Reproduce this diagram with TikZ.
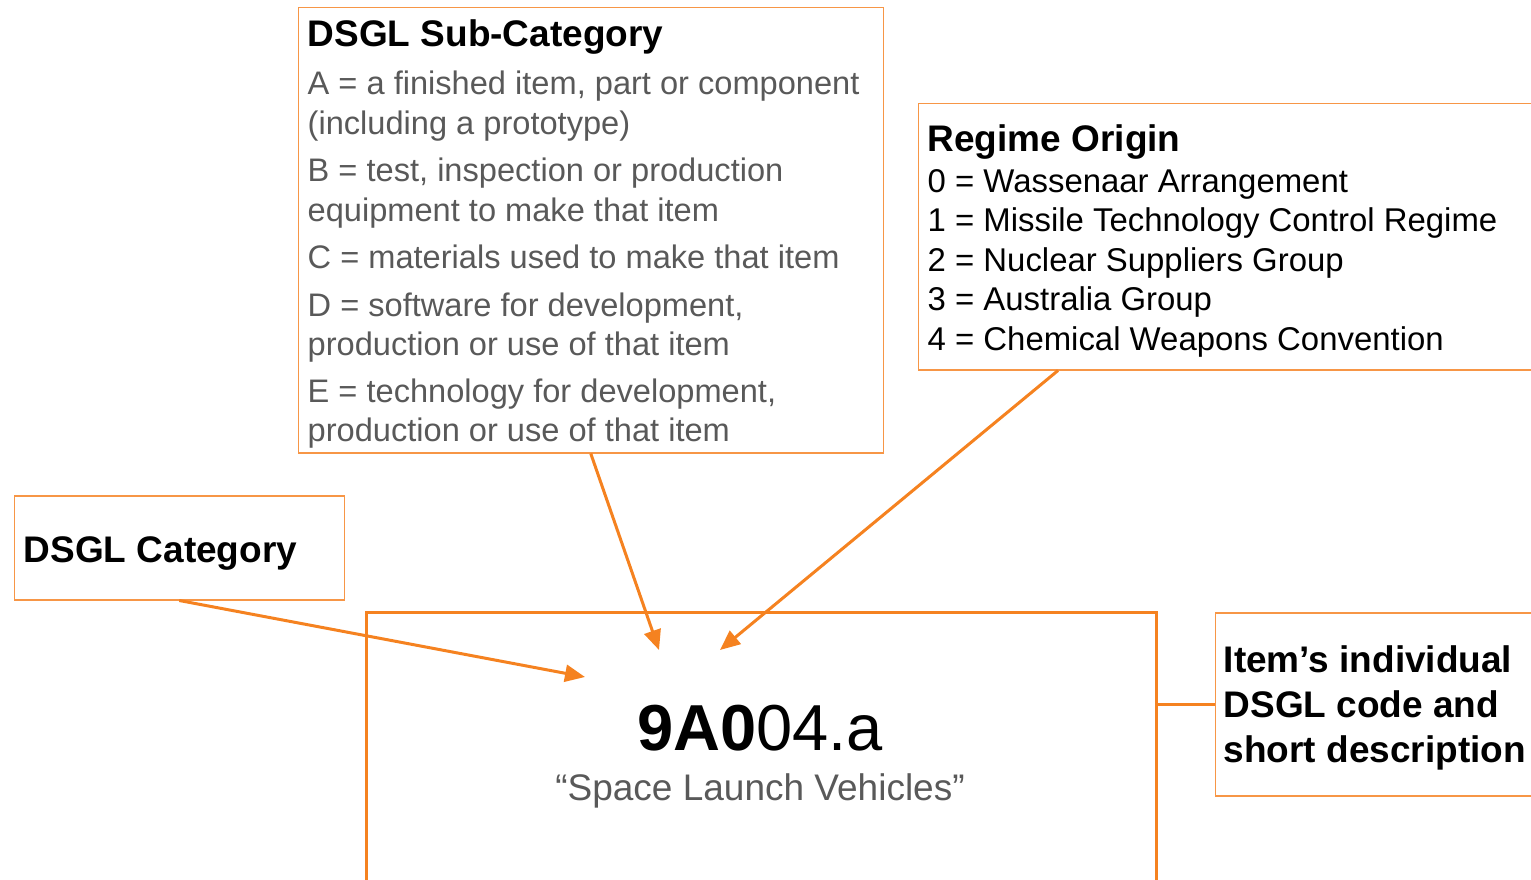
\documentclass[tikz,border=0pt]{standalone}
\usepackage{fontspec}
\setmainfont{Liberation Sans}
\usetikzlibrary{arrows.meta,calc}
\definecolor{thinor}{RGB}{247,150,70}
\definecolor{thickor}{RGB}{245,130,32}
\definecolor{txtgray}{RGB}{89,89,89}
\tikzset{
  thinbox/.style={draw=thinor,line width=1.5pt,inner sep=0,anchor=north west},
  thickbox/.style={draw=thickor,line width=3pt,inner sep=0,anchor=north west},
  conn/.style={draw=thickor,line width=3pt,-{Triangle[length=20pt,width=17pt]}},
  plain/.style={draw=thickor,line width=3pt},
  ttl/.style={anchor=base west,inner sep=0,font=\fontsize{37}{45}\selectfont\bfseries},
  gl/.style={anchor=base west,inner sep=0,text=txtgray,font=\fontsize{32.6}{40}\selectfont},
  bl/.style={anchor=base west,inner sep=0,font=\fontsize{32.9}{40}\selectfont},
}
\begin{document}
\begin{tikzpicture}[x=1pt,y=-1pt]
\useasboundingbox (0,0) rectangle (1531,880);
\clip (0,0) rectangle (1531,880);
% boxes
\node[thinbox,minimum width=585pt,minimum height=445pt] (sub) at (297.5,7) {};
\node[thinbox,minimum width=700pt,minimum height=266pt] (reg) at (917.5,103) {};
\node[thinbox,minimum width=330pt,minimum height=104pt] (cat) at (13.5,495) {};
\node[thickbox,minimum width=790pt,minimum height=400pt] (main) at (364.5,610.5) {};
\node[thinbox,minimum width=400pt,minimum height=183pt] (item) at (1214.5,612) {};
% sub-category text
\node[ttl] (subt) at (307.5,47) {DSGL Sub-Category};
\node[gl] (sa1) at (307.5,95) {A = a finished item, part or component};
\node[gl] (sa2) at (307.5,135) {(including a prototype)};
\node[gl] (sb1) at (307.5,182) {B = test, inspection or production};
\node[gl] (sb2) at (307.5,221) {equipment to make that item};
\node[gl] (sc1) at (307.5,268) {C = materials used to make that item};
\node[gl] (sd1) at (307.5,316) {D = software for development,};
\node[gl] (sd2) at (307.5,355) {production or use of that item};
\node[gl] (se1) at (307.5,402) {E = technology for development,};
\node[gl] (se2) at (307.5,441) {production or use of that item};
% regime text
\node[ttl] (regt) at (927.5,152) {Regime Origin};
\node[bl] (r0) at (927.5,192) {0 = Wassenaar Arrangement};
\node[bl] (r1) at (927.5,231) {1 = Missile Technology Control Regime};
\node[bl] (r2) at (927.5,271) {2 = Nuclear Suppliers Group};
\node[bl] (r3) at (927.5,310) {3 = Australia Group};
\node[bl] (r4) at (927.5,350) {4 = Chemical Weapons Convention};
% category
\node[ttl] (catt) at (23.5,562) {DSGL Category};
% item
\node[ttl] (it1) at (1223.5,672) {Item’s individual};
\node[ttl] (it2) at (1223.5,717) {DSGL code and};
\node[ttl] (it3) at (1223.5,762) {short description};
% code
\node[anchor=base,inner sep=0,font=\fontsize{65}{70}\selectfont] (code) at (760,750) {\textbf{9A0}04.a};
\node[anchor=base,inner sep=0,text=txtgray,font=\fontsize{37}{45}\selectfont] (desc) at (760,800) {“Space Launch Vehicles”};
% connectors
\coordinate (regfoot) at ($(reg.south west)+(140.5,0)$);
\coordinate (tcat) at (585,677);
\coordinate (tsub) at (659,650);
\coordinate (treg) at (720,650);
\draw[conn] (cat.south) -- (tcat);
\draw[conn] (sub.south) -- (tsub);
\draw[conn] (regfoot) -- (treg);
\draw[plain] (item.west) -- (item.west -| main.east);
\end{tikzpicture}
\end{document}
